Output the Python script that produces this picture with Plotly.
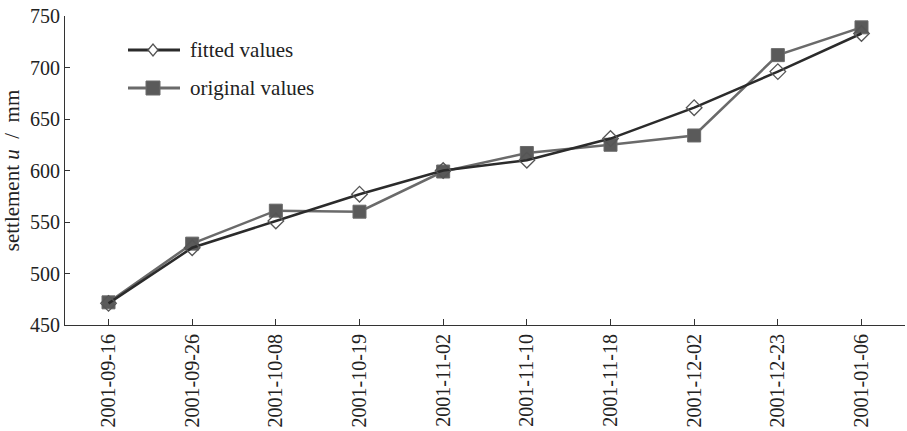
import plotly.graph_objects as go

dates = ["2001-09-16", "2001-09-26", "2001-10-08", "2001-10-19", "2001-11-02",
         "2001-11-10", "2001-11-18", "2001-12-02", "2001-12-23", "2001-01-06"]
fitted = [471, 525, 551, 577, 600, 610, 631, 661, 696, 733]
original = [472, 529, 561, 560, 599, 617, 625, 634, 712, 739]
y_ticks = [450, 500, 550, 600, 650, 700, 750]

xi = list(range(len(dates)))
font = "Liberation Serif, Times New Roman, serif"
FIT_LINE = "#2b2b2b"
ORIG_LINE = "#6a6a6a"

fig = go.Figure()
fig.add_trace(go.Scatter(
    x=xi, y=original, mode="lines+markers", name="original values",
    line=dict(color=ORIG_LINE, width=2.5),
    marker=dict(symbol="square", size=13, color="#5a5a5a", line=dict(width=1, color=ORIG_LINE)),
    showlegend=False,
))
fig.add_trace(go.Scatter(
    x=xi, y=fitted, mode="lines+markers", name="fitted values",
    line=dict(color=FIT_LINE, width=2.5),
    marker=dict(symbol="diamond-open", size=12, color="#555555", line=dict(width=1.3, color="#555555")),
    showlegend=False,
))

# manual legend (paper coordinates)
def px_x(p):
    return (p - 65) / 840.0

def px_y(p):
    return (325 - p) / 309.0

shapes = []
annotations = []
legend_items = [
    ("fitted values", FIT_LINE, 50, "diamond"),
    ("original values", ORIG_LINE, 88, "square"),
]
for label, col, py, sym in legend_items:
    shapes.append(dict(type="line", xref="paper", yref="paper",
                       x0=px_x(128), x1=px_x(180), y0=px_y(py), y1=px_y(py),
                       line=dict(color=col, width=3)))
    if sym == "diamond":
        shapes.append(dict(type="path", xref="paper", yref="paper",
                           xsizemode="pixel", ysizemode="pixel",
                           xanchor=px_x(153), yanchor=px_y(py),
                           path="M -5 0 L 0 6 L 5 0 L 0 -6 Z",
                           fillcolor="white", line=dict(color="#555555", width=1.3)))
    else:
        shapes.append(dict(type="rect", xref="paper", yref="paper",
                           xsizemode="pixel", ysizemode="pixel",
                           xanchor=px_x(153), yanchor=px_y(py),
                           x0=-7, x1=7, y0=-7, y1=7,
                           fillcolor="#5a5a5a", line=dict(color=ORIG_LINE, width=1)))
    annotations.append(dict(text=label, xref="paper", yref="paper",
                            x=px_x(188), y=px_y(py), xanchor="left", yanchor="middle",
                            showarrow=False, font=dict(size=21, family=font, color="#222")))

fig.update_layout(
    width=907, height=431,
    margin=dict(l=65, r=2, t=16, b=106),
    paper_bgcolor="white", plot_bgcolor="white",
    font=dict(family=font, size=20, color="#222222"),
    showlegend=False,
    shapes=shapes,
    annotations=annotations,
    xaxis=dict(
        range=[-0.52, 9.52], tickmode="array", tickvals=xi, ticktext=dates,
        tickangle=-90, ticks="inside", ticklen=6, tickcolor="#333", tickwidth=1,
        showline=True, linecolor="#333", linewidth=1.2, showgrid=False, zeroline=False,
        tickfont=dict(size=20, family=font, color="#222"),
    ),
    yaxis=dict(
        range=[450, 750], tickmode="array", tickvals=y_ticks,
        ticks="inside", ticklen=5, tickcolor="#333", tickwidth=1,
        showline=True, linecolor="#333", linewidth=1.2, showgrid=False, zeroline=False,
        tickfont=dict(size=20, family=font, color="#222"),
        title=dict(text="settlement\u00a0<i>u</i>\u00a0\u00a0/\u00a0\u00a0mm", standoff=4,
                   font=dict(size=21, family=font, color="#222")),
    ),
)

fig.write_html("out.html")
